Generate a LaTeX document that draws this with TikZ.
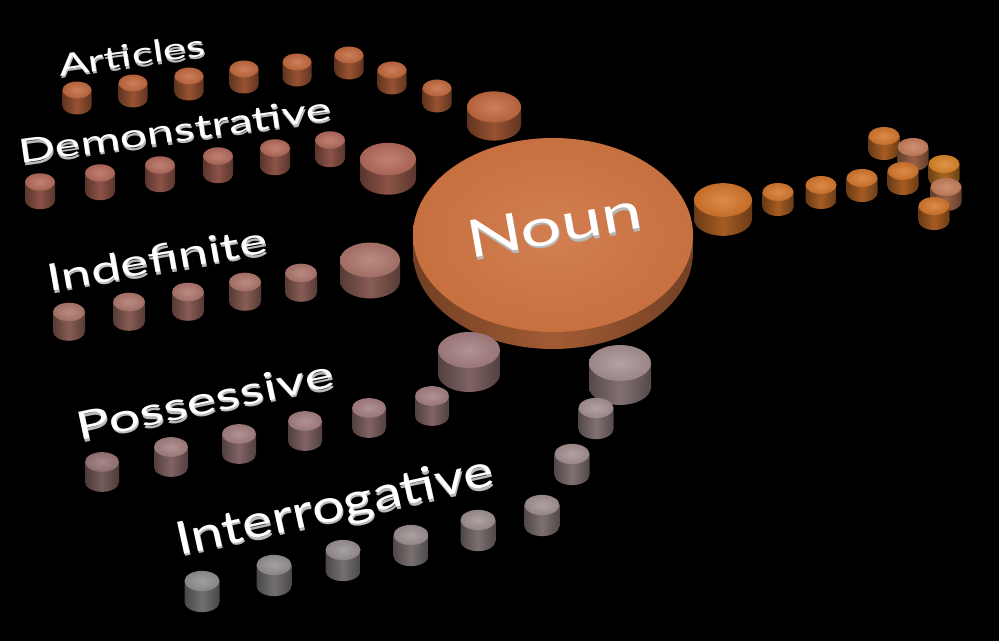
\documentclass[tikz,border=0pt]{standalone}
\usepackage{fontspec}
\newfontfamily\lblfont{Lato}
\definecolor{art}{HTML}{C2693F}
\definecolor{dem}{HTML}{B46B5B}
\definecolor{ind}{HTML}{AE766C}
\definecolor{pos}{HTML}{A57F80}
\definecolor{igA}{HTML}{A89192}
\definecolor{igB}{HTML}{8F8F8F}
\definecolor{ora}{HTML}{D4762C}
\definecolor{orp}{HTML}{C57D5A}
\definecolor{noun}{HTML}{CF7442}
\newcommand{\puck}[5]{%
  \shade[left color=#5!50!black, right color=#5!50!black, middle color=#5!78!black]
    (#1-#3,#2) -- (#1-#3,#2+#4) arc[start angle=180, end angle=0, x radius=#3, y radius=0.58*#3] -- (#1+#3,#2) -- cycle;
  \shade[inner color=#5!85!white, outer color=#5!92!black] (#1,#2) ellipse[x radius=#3, y radius=0.58*#3];
}
\newcommand{\plabel}[7]{%
  \node[rotate=#4, lbl, xscale=#7, text=gray!55] at (#2+1,#3+2.5) {\fontsize{#5}{#5}\selectfont #6};
  \node[rotate=#4, lbl, xscale=#7] (#1) at (#2,#3) {\fontsize{#5}{#5}\selectfont #6};
}
\tikzset{lbl/.style={text=white, inner sep=0pt, yscale=0.8, font=\lblfont}}

\begin{document}
\begin{tikzpicture}[x=0.02cm, y=-0.02cm]
  \fill[black] (0,0) rectangle (999,641);
  \useasboundingbox (0,0) rectangle (999,641);
  \puck{349}{55}{14.5}{16}{art}
  \puck{297}{62}{14.5}{16}{art}
  \puck{244}{69}{14.5}{16}{art}
  \puck{392}{70}{14.5}{16}{art}
  \puck{189}{76}{14.5}{16}{art}
  \puck{133}{83}{14.5}{16}{art}
  \puck{437}{88}{14.5}{16}{art}
  \puck{77}{90}{14.5}{16}{art}
  \puck{494}{107}{27}{18}{art}
  \puck{330}{140}{15}{18.5}{dem}
  \puck{275}{148}{15}{18.5}{dem}
  \puck{218}{156}{15}{18.5}{dem}
  \puck{388}{159}{28}{19.5}{dem}
  \puck{160}{165}{15}{18.5}{dem}
  \puck{100}{173}{15}{18.5}{dem}
  \puck{40}{182}{15}{18.5}{dem}
  \puck{370}{260}{30}{21}{ind}
  \puck{301}{273}{16}{19.5}{ind}
  \puck{245}{282}{16}{19.5}{ind}
  \puck{188}{292}{16}{19.5}{ind}
  \puck{129}{302}{16}{19.5}{ind}
  \puck{69}{312}{16}{19.5}{ind}
  \shade[left color=noun!55!black, right color=noun!55!black, middle color=noun!78!black]
    (413,235) -- (413,252) arc[start angle=180, end angle=0, x radius=140, y radius=97] -- (693,235) -- cycle;
  \shade[inner color=noun!92!white, outer color=noun!96!black] (553,235) ellipse[x radius=140, y radius=97];
  \puck{884}{136}{15.5}{15}{ora}
  \puck{913}{147}{15.5}{15}{orp}
  \puck{944}{164}{15.5}{15}{ora!90!yellow}
  \puck{903}{171}{15.5}{15}{ora}
  \puck{862}{178}{15.5}{15}{ora}
  \puck{821}{185}{15.5}{15}{ora}
  \puck{946}{187}{15.5}{15}{orp}
  \puck{778}{192}{15.5}{15}{ora}
  \puck{723}{200}{29}{19}{ora}
  \puck{934}{206}{15.5}{15}{ora}
  \puck{469}{350}{31}{24}{pos}
  \puck{432}{396}{17}{20}{pos}
  \puck{369}{408}{17}{20}{pos}
  \puck{305}{421}{17}{20}{pos}
  \puck{239}{434}{17}{20}{pos}
  \puck{171}{447}{17}{20}{pos}
  \puck{102}{462}{17}{20}{pos!92!black}
  \puck{620}{363}{31}{24}{igA}
  \puck{596}{408}{17.5}{21}{igA!95!igB}
  \puck{572}{454}{17.5}{21}{igA!85!igB}
  \puck{542}{505}{17.5}{21}{igA!75!igB}
  \puck{478}{520}{17.5}{21}{igA!65!igB}
  \puck{411}{535}{17.5}{21}{igA!50!igB}
  \puck{343}{550}{17.5}{21}{igA!35!igB}
  \puck{274}{565}{17.5}{21}{igA!20!igB}
  \puck{202}{581}{17.5}{21}{igB}
  \plabel{articles}{132}{55}{8}{21.5}{Articles}{1.18}
  \plabel{demonstrative}{175}{130}{8}{23.5}{Demonstrative}{1.17}
  \plabel{indefinite}{157}{259}{10}{26.5}{Indefinite}{1.15}
  \plabel{possessive}{205}{400}{12}{27.5}{Possessive}{1.16}
  \plabel{interrogative}{335}{508}{12.5}{32.5}{Interrogative}{1.01}
  \plabel{nounlbl}{554}{225}{10}{37}{Noun}{1.12}
\end{tikzpicture}
\end{document}
